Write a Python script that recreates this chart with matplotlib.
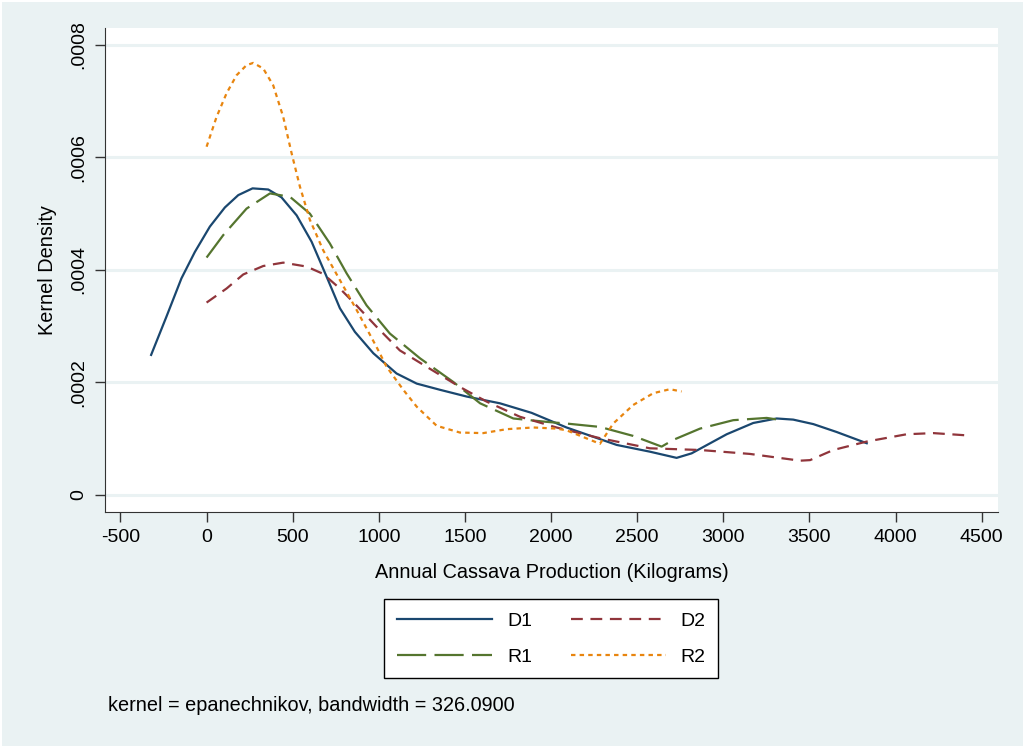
import numpy as np
import matplotlib.pyplot as plt

plt.rcParams['font.family'] = ['Liberation Sans', 'DejaVu Sans']
plt.rcParams['lines.scale_dashes'] = False

# density curves (x in kg, y density)
d1_x = [-322, -233, -146, -68, 19, 106, 184, 267, 358, 435, 523, 610, 697, 774, 861, 968,
        1103, 1220, 1355, 1510, 1703, 1887, 2090, 2381, 2574, 2729, 2816, 3020, 3174, 3310,
        3406, 3523, 3658, 3833]
d1_y = [249, 317, 385, 432, 477, 511, 533, 545, 543, 529, 497, 450, 388, 332, 290, 252,
        216, 198, 187, 175, 163, 146, 120, 89, 77, 66, 74, 108, 128, 136,
        134, 126, 112, 92]

d2_x = [0, 116, 213, 329, 445, 581, 677, 774, 870, 987, 1122, 1277, 1471, 1626, 1820, 2032,
        2284, 2574, 2865, 3155, 3446, 3504, 3639, 3833, 4065, 4220, 4413]
d2_y = [342, 367, 392, 407, 413, 406, 393, 367, 337, 299, 257, 228, 192, 166, 139, 120,
        101, 83, 80, 73, 61, 62, 80, 95, 108, 110, 106]

r1_x = [0, 97, 232, 368, 484, 600, 716, 813, 929, 1064, 1239, 1432, 1588, 1781, 1974, 2090,
        2284, 2477, 2642, 2710, 2865, 3058, 3252, 3339]
r1_y = [422, 462, 509, 536, 530, 500, 447, 394, 337, 287, 243, 201, 163, 136, 130, 127,
        121, 105, 86, 98, 118, 133, 137, 133]

r2_x = [0, 58, 116, 174, 232, 271, 329, 387, 445, 494, 542, 600, 677, 774, 871, 987, 1045,
        1142, 1220, 1336, 1471, 1606, 1742, 1897, 2032, 2090, 2284, 2361, 2477, 2594, 2690, 2758]
r2_y = [619, 672, 714, 746, 764, 768, 758, 728, 672, 607, 548, 489, 435, 382, 329, 263, 228,
        187, 157, 123, 111, 110, 117, 120, 118, 115, 91, 127, 160, 181, 188, 184]

x_ticks = [-500, 0, 500, 1000, 1500, 2000, 2500, 3000, 3500, 4000, 4500]
y_ticks = [0, 0.0002, 0.0004, 0.0006, 0.0008]
y_ticklabels = ['0', '.0002', '.0004', '.0006', '.0008']

bg = '#EAF2F3'
fig = plt.figure(figsize=(10.24, 7.47), dpi=100, facecolor=bg)
fig.patch.set_edgecolor('white')
fig.patch.set_linewidth(2)
ax = fig.add_axes([0.1025, 0.3146, 0.8721, 0.6479])
ax.set_facecolor('white')

lw = 1.6
ax.plot(d1_x, np.array(d1_y) * 1e-6, color='#1A476F', lw=lw, label='D1')
ax.plot(r1_x, np.array(r1_y) * 1e-6, color='#55752F', lw=lw, label='R1',
        linestyle=(0, (21, 6)))
ax.plot(d2_x, np.array(d2_y) * 1e-6, color='#90353B', lw=lw, label='D2',
        linestyle=(0, (8.5, 5.5)))
ax.plot(r2_x, np.array(r2_y) * 1e-6, color='#E8850F', lw=lw, label='R2',
        linestyle=(0, (3.2, 3)))

ax.set_xlim(-590, 4595)
ax.set_ylim(-0.0000302, 0.00083)
ax.set_xticks(x_ticks)
ax.set_xticklabels([str(v) for v in x_ticks])
ax.set_yticks(y_ticks)
ax.set_yticklabels(y_ticklabels, rotation=90, va='center')
ax.tick_params(labelsize=14, length=7.5, width=1, color='#333333', pad=5)
ax.grid(axis='y', color=bg, lw=2.2)
ax.set_axisbelow(True)
for s in ['top', 'right']:
    ax.spines[s].set_visible(False)
for s in ['left', 'bottom']:
    ax.spines[s].set_color('#333333')

ax.set_xlabel('Annual Cassava Production (Kilograms)', fontsize=14.3, labelpad=12)
ax.set_ylabel('Kernel Density', fontsize=14.3, labelpad=10)

leg = fig.legend(loc='center', bbox_to_anchor=(0.5385, 0.1448), ncol=2, fontsize=14,
                 frameon=True, fancybox=False, handlelength=4.9, columnspacing=2.0,
                 handletextpad=0.75, borderpad=0.65, labelspacing=0.95)
leg.get_frame().set_edgecolor('black')
leg.get_frame().set_linewidth(1)
leg.get_frame().set_facecolor('white')
leg.get_frame().set_alpha(1)

fig.text(0.105, 0.056, 'kernel = epanechnikov, bandwidth = 326.0900', fontsize=14.3,
         va='center', ha='left')

fig.savefig('out.png', dpi=100, facecolor=fig.get_facecolor(), edgecolor='white')
